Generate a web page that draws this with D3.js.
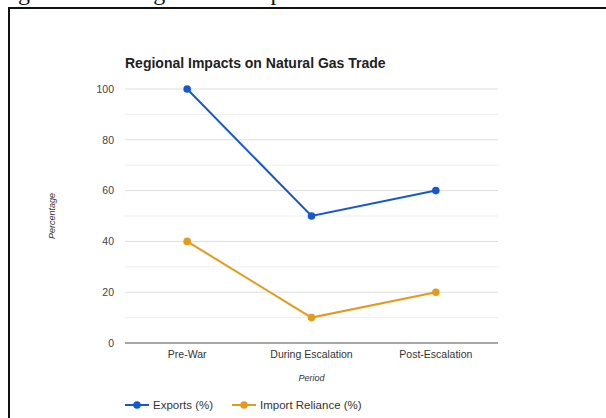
<!DOCTYPE html>
<html>
<head>
<meta charset="utf-8">
<script src="https://cdn.jsdelivr.net/npm/d3@7"></script>
<style>
  html, body { margin: 0; padding: 0; background: #fff; }
  svg { display: block; }
</style>
</head>
<body>
<svg id="chart" width="606" height="418"></svg>
<script>
// Chart data
const periods = ["Pre-War", "During Escalation", "Post-Escalation"];
const exportsPct = [100, 50, 60];
const importReliancePct = [40, 10, 20];
const yTicks = [0, 20, 40, 60, 80, 100];
const yMinorTicks = [10, 30, 50, 70, 90];
const seriesNames = ["Exports (%)", "Import Reliance (%)"];
const seriesColors = ["#1558cf", "#e59a1c"];

const svg = d3.select("#chart");
const font = "Arial, 'Liberation Sans', sans-serif";

// Page caption line above the framed figure (mostly out of view)
svg.append("text")
  .attr("x", 6).attr("y", 0)
  .attr("font-family", "'Liberation Serif', 'Times New Roman', serif")
  .attr("font-size", 24)
  .attr("fill", "#111")
  .text("ng the markets gas trade imports");

// Figure frame
svg.append("line").attr("x1", 8).attr("x2", 606).attr("y1", 8).attr("y2", 8)
  .attr("stroke", "#111").attr("stroke-width", 2);
svg.append("line").attr("x1", 9).attr("x2", 9).attr("y1", 7).attr("y2", 418)
  .attr("stroke", "#111").attr("stroke-width", 2);

const plot = { left: 125, right: 498, top: 89, bottom: 343 };

const x = d3.scaleBand().domain(periods).range([plot.left, plot.right]);
const y = d3.scaleLinear().domain([0, 100]).range([plot.bottom, plot.top]);
const cx = d => x(d) + x.bandwidth() / 2;

// Minor gridlines
svg.append("g").selectAll("line").data(yMinorTicks).join("line")
  .attr("x1", plot.left).attr("x2", plot.right)
  .attr("y1", d => y(d)).attr("y2", d => y(d))
  .attr("stroke", "#efefef").attr("stroke-width", 1);

// Major gridlines and y axis labels
const yAxis = d3.axisLeft(y).tickValues(yTicks).tickSize(0).tickPadding(11);
const gy = svg.append("g").attr("transform", `translate(${plot.left},0)`).call(yAxis);
gy.select(".domain").remove();
gy.selectAll("text").attr("font-family", font).attr("font-size", 10.5).attr("fill", "#444");
svg.append("g").selectAll("line").data(yTicks.filter(d => d !== 0)).join("line")
  .attr("x1", plot.left).attr("x2", plot.right)
  .attr("y1", d => y(d)).attr("y2", d => y(d))
  .attr("stroke", "#dedede").attr("stroke-width", 1);

// Baseline
svg.append("line")
  .attr("x1", plot.left).attr("x2", plot.right)
  .attr("y1", y(0)).attr("y2", y(0))
  .attr("stroke", "#8a8a8a").attr("stroke-width", 1.3);

// X axis labels
const xAxis = d3.axisBottom(x).tickSize(0).tickPadding(8);
const gx = svg.append("g").attr("transform", `translate(0,${plot.bottom})`).call(xAxis);
gx.select(".domain").remove();
gx.selectAll("text").attr("font-family", font).attr("font-size", 10.5).attr("fill", "#333");

// Lines and points
const series = [exportsPct, importReliancePct];
const line = d3.line().x((d, i) => cx(periods[i])).y(d => y(d));
series.forEach((vals, s) => {
  svg.append("path").datum(vals)
    .attr("d", line).attr("fill", "none")
    .attr("stroke", seriesColors[s]).attr("stroke-width", 2);
  svg.append("g").selectAll("circle").data(vals).join("circle")
    .attr("cx", (d, i) => cx(periods[i])).attr("cy", d => y(d))
    .attr("r", 3.8).attr("fill", seriesColors[s]);
});

// Title
svg.append("text")
  .attr("x", plot.left).attr("y", 68)
  .attr("font-family", font).attr("font-size", 14).attr("font-weight", "bold")
  .attr("fill", "#222")
  .text("Regional Impacts on Natural Gas Trade");

// Axis titles
svg.append("text")
  .attr("x", (plot.left + plot.right) / 2).attr("y", 381)
  .attr("text-anchor", "middle")
  .attr("font-family", font).attr("font-size", 9).attr("font-style", "italic")
  .attr("fill", "#333").text("Period");
svg.append("text")
  .attr("transform", `translate(55,${(plot.top + plot.bottom) / 2}) rotate(-90)`)
  .attr("text-anchor", "middle")
  .attr("font-family", font).attr("font-size", 9).attr("font-style", "italic")
  .attr("fill", "#333").text("Percentage");

// Legend
const legendX = [125, 232];
seriesNames.forEach((name, s) => {
  const g = svg.append("g").attr("transform", `translate(${legendX[s]},405)`);
  g.append("line").attr("x1", 0).attr("x2", 24).attr("y1", 0).attr("y2", 0)
    .attr("stroke", seriesColors[s]).attr("stroke-width", 2);
  g.append("circle").attr("cx", 12).attr("cy", 0).attr("r", 3.8).attr("fill", seriesColors[s]);
  g.append("text").attr("x", 28).attr("y", 4)
    .attr("font-family", font).attr("font-size", 11.5).attr("fill", "#333")
    .text(name);
});
</script>
</body>
</html>
